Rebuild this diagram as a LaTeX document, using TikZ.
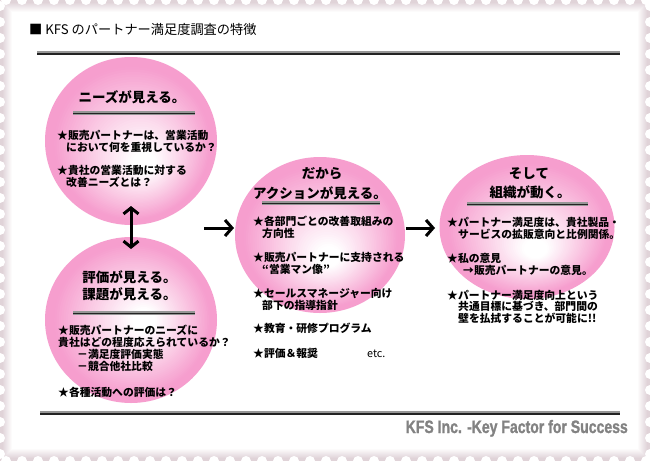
\documentclass[tikz,border=0pt]{standalone}
\usepackage{fontspec}
\newfontfamily\jp{Noto Sans CJK JP}
\newfontfamily\footfont[FakeStretch=0.78,FakeBold=1.2]{Liberation Sans}
\usetikzlibrary{arrows.meta,shapes.geometric}
\definecolor{pinkE}{RGB}{246,158,206}
\definecolor{mauve}{RGB}{224,211,216}
\definecolor{barDark}{RGB}{35,35,35}
\definecolor{barLight}{RGB}{150,150,150}
\definecolor{footgray}{RGB}{130,130,130}
\tikzset{
  bodytext/.style={font=\jp\bfseries\fontsize{10.8}{12.2}\selectfont, anchor=base west, align=left, inner sep=0pt},
  headtext/.style={font=\jp\bfseries\fontsize{13.5}{17}\selectfont, anchor=base, inner sep=0pt},
  titletext/.style={font=\jp\fontsize{13.2}{16}\selectfont, anchor=base west, inner sep=0pt},
  plaintext/.style={font=\jp\fontsize{10.8}{12}\selectfont, anchor=base west, inner sep=0pt},
  ball/.style={ellipse, inner sep=0pt},
  flow/.style={line width=3pt, -{Straight Barb[length=7pt,width=16pt]}},
  vflow/.style={line width=3pt, {Straight Barb[length=6pt,width=15pt]}-{Straight Barb[length=6pt,width=15pt]}},
}
\newcommand\pinkball[6]{%
  \foreach \i in {0,...,40}{%
    \pgfmathsetmacro\bt{1-\i/44}%
    \pgfmathsetmacro\bp{100*min(1,max(0,(\bt-0.14)/0.78))}%
    \pgfmathsetmacro\bx{#1+#5*(1-\bt)}%
    \pgfmathsetmacro\by{#2+#6*(1-\bt)}%
    \pgfmathsetmacro\brx{#3*\bt}%
    \pgfmathsetmacro\bry{#4*\bt}%
    \fill[pinkE!\bp!white] (\bx,\by) ellipse [x radius=\brx pt, y radius=\bry pt];
  }}
\newcommand\headbar[3]{%
  \draw[line width=3.2pt, barLight] (#1,#3) -- (#2,#3);
  \draw[line width=1.6pt, barDark] (#1,#3+0.4) -- (#2,#3+0.4);}
\begin{document}
\begin{tikzpicture}[x=1pt,y=-1pt]
\useasboundingbox (0,0) rectangle (650,461);
% stamp frame
\fill[mauve] (0,0) rectangle (650,461);
\foreach \k in {0,...,10}{
  \pgfmathsetmacro\mk{100-\k*10}
  \fill[mauve!\mk!white] (2+\k,2+\k) rectangle (648-\k,459-\k);
}
\fill[white] (13,13) rectangle (637,448);
\foreach \xx in {6,22,...,646}{
  \fill[white] (\xx,0) circle (5pt);
  \fill[white] (\xx,461) circle (5pt);
}
\foreach \yy in {6,22,...,458}{
  \fill[white] (0,\yy) circle (5pt);
  \fill[white] (650,\yy) circle (5pt);
}
% title and rules
\node[titletext] (title) at (29,34) {■ KFS のパートナー満足度調査の特徴};
\draw[line width=4.5pt, barLight] (37,53) -- (620,53);
\draw[line width=2.2pt, barDark] (37,54.2) -- (620,54.2);
\draw[line width=4.5pt, barLight] (40,413) -- (620,413);
\draw[line width=2.2pt, barDark] (40,414.2) -- (620,414.2);
\node[font=\footfont\bfseries\fontsize{18}{18}\selectfont, text=footgray, anchor=base east, inner sep=0pt] (foot) at (628,433) {KFS Inc. -Key Factor for Success};
% circles
\node[ball, minimum width=172pt, minimum height=168pt] (c1) at (131,141) {};
\node[ball, minimum width=172pt, minimum height=166pt] (c2) at (131,320) {};
\node[ball, minimum width=170pt, minimum height=156pt] (c3) at (320,235) {};
\node[ball, minimum width=175pt, minimum height=144pt] (c4) at (527,227) {};
\pinkball{131}{141}{86}{84}{15}{25}
\pinkball{131}{320}{86}{83}{15}{0}
\pinkball{320}{235}{85}{78}{10}{25}
\pinkball{527}{227}{87.5}{72}{10}{25}
% circle 1
\node[headtext] (h1) at (132,102) {ニーズが見える。};
\headbar{73}{195}{113}
\node[bodytext] (t1a) at (57,151.2) {★販売パートナーは、営業活動\\\hspace*{9pt}において何を重視しているか？};
\node[bodytext] (t1b) at (57,186.2) {★貴社の営業活動に対する\\\hspace*{9pt}改善ニーズとは？};
% circle 2
\node[headtext] (h2a) at (129.5,282) {評価が見える。};
\node[headtext] (h2b) at (129.5,299) {課題が見える。};
\headbar{73}{195}{313}
\node[bodytext, font=\jp\bfseries\fontsize{10.8}{12.3}\selectfont] (t2a) at (58,370.9) {★販売パートナーのニーズに\\貴社はどの程度応えられているか？\\\hspace*{19pt}－満足度評価実態\\\hspace*{19pt}－競合他社比較};
\node[bodytext] (t2b) at (58,396) {★各種活動への評価は？};
% circle 3
\node[headtext] (h3a) at (322,178) {だから};
\node[headtext] (h3b) at (320,198) {アクションが見える。};
\headbar{262}{380}{203}
\node[bodytext] (t3a) at (253,237.2) {★各部門ごとの改善取組みの\\\hspace*{9pt}方向性};
\node[bodytext] (t3b) at (253,273.2) {★販売パートナーに支持される\\\hspace*{9pt}“営業マン像”};
\node[bodytext] (t3c) at (253,309.2) {★セールスマネージャー向け\\\hspace*{9pt}部下の指導指針};
\node[bodytext] (t3d) at (253,332) {★教育・研修プログラム};
\node[bodytext] (t3e) at (253,357) {★評価＆報奨};
\node[plaintext] (t3f) at (367,357) {etc.};
% circle 4
\node[headtext] (h4a) at (529,178) {そして};
\node[headtext] (h4b) at (530,197) {組織が動く。};
\headbar{467}{588}{204}
\node[bodytext] (t4a) at (447,238.2) {★パートナー満足度は、貴社製品・\\\hspace*{11pt}サービスの拡販意向と比例関係。};
\node[bodytext] (t4b) at (447,274.2) {★私の意見\\\hspace*{16pt}→販売パートナーの意見。};
\node[bodytext, font=\jp\bfseries\fontsize{10.8}{11.7}\selectfont] (t4c) at (447,322.4) {★パートナー満足度向上という\\\hspace*{11pt}共通目標に基づき、部門間の\\\hspace*{11pt}壁を払拭することが可能に!!};
% arrows
\coordinate (v1) at (131,206);
\coordinate (v2) at (131,249);
\coordinate (r1a) at (204,228);
\coordinate (r1b) at (234,228);
\coordinate (r2a) at (406,228);
\coordinate (r2b) at (435,228);
\draw[vflow] (v1) -- (v2);
\draw[flow] (r1a) -- (r1b);
\draw[flow] (r2a) -- (r2b);
\end{tikzpicture}
\end{document}
